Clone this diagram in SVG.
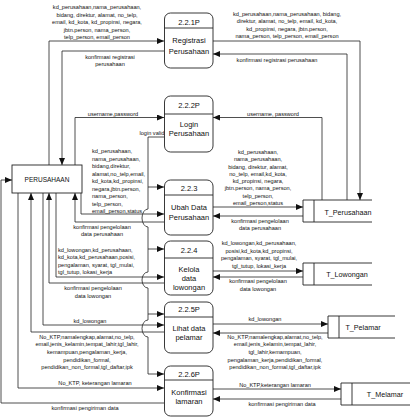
<svg xmlns="http://www.w3.org/2000/svg" width="420" height="418" viewBox="0 0 420 418">
<style>
.box{fill:#fff;stroke:#222;stroke-width:0.9}
.ln{fill:none;stroke:#222;stroke-width:0.9}
.c{fill:none;stroke:#222;stroke-width:0.8}
.a{marker-end:url(#ah)}
text{font-family:"Liberation Sans",Arial,sans-serif;fill:#111}
.lb{font-size:5.6px;text-anchor:middle}
.ll{font-size:5.6px;text-anchor:start}
.pt{font-size:7.5px;text-anchor:middle}
.et{font-size:6.5px;text-anchor:middle}
.st{font-size:7.2px;text-anchor:middle}
</style>
<defs>
<marker id="ah" markerUnits="userSpaceOnUse" markerWidth="7" markerHeight="6" refX="7" refY="3" orient="auto">
<path d="M0,0 L7,3 L0,6 Z" fill="#111"/>
</marker>
</defs>
<rect width="420" height="418" fill="#fff"/>

<g id="connectors">
<path class="c a" d="M49 165 V41 H164"/>
<path class="c a" d="M164 51 H62 V165"/>
<path class="c a" d="M213 41 H360 V200"/>
<path class="c a" d="M347 200 V54 H213"/>
<path class="c a" d="M75 165 V117.5 H164"/>
<path class="c a" d="M322 200 V117.5 H213"/>
<path class="c a" d="M164 137 H148 V209 A6 9 0 0 0 148 227 V272 A6 8 0 0 0 148 288 V320 A6 8.5 0 0 0 148 337 V374 H164"/>
<path class="c a" d="M148 187 H164"/>
<path class="c a" d="M148 249 H164"/>
<path class="c a" d="M148 314 H164"/>
<path class="c a" d="M81 193 V214 H164"/>
<path class="c a" d="M164 222 H75 V193"/>
<path class="c a" d="M56 193 V277 H164"/>
<path class="c a" d="M164 283 H49 V193"/>
<path class="c a" d="M43 193 V325 H164"/>
<path class="c a" d="M164 332 H31 V193"/>
<path class="c a" d="M18 193 V388 H164"/>
<path class="c a" d="M164 403 H1 V180 H12"/>
<path class="c a" d="M213 207 H303"/>
<path class="c a" d="M303 216 H213"/>
<path class="c a" d="M213 271 H303"/>
<path class="c a" d="M303 277 H213"/>
<path class="c a" d="M213 324 H328"/>
<path class="c a" d="M328 333 H213"/>
<path class="c a" d="M213 389 H341"/>
<path class="c a" d="M341 399 H213"/>
</g>

<g id="flow-labels">
<text class="lb" x="97"><tspan x="97" y="9">kd_perusahaan,nama_perusahaan,</tspan><tspan x="97" y="16.5">bidang, direktur, alamat, no_telp,</tspan><tspan x="97" y="24">email, kd_kota, kd_propinsi, negara,</tspan><tspan x="97" y="31.5">jbtn.person, nama_person,</tspan><tspan x="97" y="39">telp_person, email_person</tspan></text>
<text class="lb"><tspan x="110" y="59">konfirmasi registrasi</tspan><tspan x="110" y="65.5">perusahaan</tspan></text>
<text class="lb"><tspan x="287" y="16">kd_perusahaan,nama_perusahaan, bidang,</tspan><tspan x="287" y="23.3">direktur, alamat, no_telp, email, kd_kota,</tspan><tspan x="287" y="30.6">kd_propinsi, negara, jbtn.person,</tspan><tspan x="287" y="38">nama_person, telp_person, email_person</tspan></text>
<text class="lb" x="277" y="62">konfirmasi registrasi perusahaan</text>
<text class="lb" x="113" y="115.5">username,password</text>
<text class="lb" x="273" y="115.5">username, password</text>
<rect x="139" y="130" width="24" height="6" fill="#fff"/>
<text class="ll" x="139.5" y="135">login valid</text>
<text class="ll"><tspan x="92" y="153">kd_perusahaan,</tspan><tspan x="92" y="160.5">nama_perusahaan,</tspan><tspan x="92" y="168">bidang,direktur,</tspan><tspan x="92" y="175.5">alamat,no_telp,email,</tspan><tspan x="92" y="183">kd_kota,kd_propinsi,</tspan><tspan x="92" y="190.5">negara,jbtn.person,</tspan><tspan x="92" y="198">nama_person,</tspan><tspan x="92" y="205.5">telp_person,</tspan><tspan x="92" y="213">email_person,status</tspan></text>
<text class="lb"><tspan x="102" y="228.5">konfirmasi pengelolaan</tspan><tspan x="102" y="235.5">data perusahaan</tspan></text>
<text class="ll"><tspan x="58" y="252">kd_lowongan,kd_perusahaan,</tspan><tspan x="58" y="259.3">kd_kota,kd_perusahaan,posisi,</tspan><tspan x="58" y="266.6">pengalaman, syarat, tgl_mulai,</tspan><tspan x="58" y="274">tgl_tutup, lokasi_kerja</tspan></text>
<text class="lb"><tspan x="93" y="290">konfirmasi pengelolaan</tspan><tspan x="93" y="297.5">data lowongan</tspan></text>
<text class="lb" x="90" y="323">kd_lowongan</text>
<text class="lb"><tspan x="87" y="339">No_KTP,namalengkap,alamat,no_telp,</tspan><tspan x="87" y="346.3">email,jenis_kelamin,tempat_lahir,tgl_lahir,</tspan><tspan x="87" y="353.9">kemampuan,pengalaman_kerja,</tspan><tspan x="87" y="361.5">pendidikan_formal,</tspan><tspan x="87" y="369">pendidikan_non_formal,tgl_daftar,ipk</tspan></text>
<text class="lb" x="95" y="385">No_KTP, keterangan lamaran</text>
<text class="lb" x="85" y="409.5">konfirmasi pengiriman data</text>
<text class="lb"><tspan x="258" y="154">kd_perusahaan,</tspan><tspan x="258" y="161.2">nama_perusahaan,</tspan><tspan x="258" y="168.5">bidang, direktur, alamat,</tspan><tspan x="258" y="175.8">no_telp, email,kd_kota,</tspan><tspan x="258" y="183">kd_propinsi, negara,</tspan><tspan x="258" y="190.3">jbtn.person, nama_person,</tspan><tspan x="258" y="197.6">telp_person,</tspan><tspan x="258" y="205">email_person,status</tspan></text>
<text class="lb"><tspan x="260" y="223">konfirmasi pengelolaan</tspan><tspan x="260" y="230">data perusahaan</tspan></text>
<text class="lb"><tspan x="259" y="245">kd_lowongan,kd_perusahaan,</tspan><tspan x="259" y="252.5">posisi,kd_kota,kd_propinsi,</tspan><tspan x="259" y="260">pengalaman, syarat,  tgl_mulai,</tspan><tspan x="259" y="267.5">tgl_tutup, lokasi_kerja</tspan></text>
<text class="lb"><tspan x="258" y="283">konfirmasi pengelolaan</tspan><tspan x="258" y="290.5">data lowongan</tspan></text>
<text class="lb" x="265" y="321">kd_lowongan</text>
<text class="lb"><tspan x="275" y="339">No_KTP,namalengkap,alamat,no_telp,</tspan><tspan x="275" y="346.3">email,jenis_kelamin,tempat_lahir,</tspan><tspan x="275" y="353.9">tgl_lahir,kemampuan,</tspan><tspan x="275" y="361.5">pengalaman_kerja,pendidikan_formal,</tspan><tspan x="275" y="369">pendidikan_non_formal,tgl_daftar,ipk</tspan></text>
<text class="lb" x="275" y="387">No_KTP,keterangan lamaran</text>
<text class="lb" x="282" y="406">konfirmasi pengiriman data</text>
</g>

<g id="entity-perusahaan">
<rect class="box" x="12" y="165" width="70" height="28"/>
<text class="et" x="47" y="182.3">PERUSAHAAN</text>
</g>

<g id="p221">
<rect class="box" x="164.5" y="13" width="48.5" height="55" rx="6"/>
<line class="ln" x1="164.5" y1="28" x2="213" y2="28"/>
<text class="pt" x="189" y="24.5">2.2.1P</text>
<text class="pt" x="189" y="42.5">Registrasi</text>
<text class="pt" x="189" y="54">Perusahaan</text>
</g>
<g id="p222">
<rect class="box" x="164.5" y="96" width="48.5" height="56" rx="6"/>
<line class="ln" x1="164.5" y1="114" x2="213" y2="114"/>
<text class="pt" x="189" y="107.5">2.2.2P</text>
<text class="pt" x="189" y="126.5">Login</text>
<text class="pt" x="189" y="136">Perusahaan</text>
</g>
<g id="p223">
<rect class="box" x="164.5" y="180" width="48.5" height="55" rx="6"/>
<line class="ln" x1="164.5" y1="195" x2="213" y2="195"/>
<text class="pt" x="189" y="190.5">2.2.3</text>
<text class="pt" x="189" y="209.5">Ubah Data</text>
<text class="pt" x="189" y="219.5">Perusahaan</text>
</g>
<g id="p224">
<rect class="box" x="164.5" y="241" width="48.5" height="54" rx="6"/>
<line class="ln" x1="164.5" y1="258" x2="213" y2="258"/>
<text class="pt" x="189" y="252.5">2.2.4</text>
<text class="pt" x="189" y="271.5">Kelola</text>
<text class="pt" x="189" y="280.5">data</text>
<text class="pt" x="189" y="290">lowongan</text>
</g>
<g id="p225">
<rect class="box" x="164.5" y="302" width="48.5" height="51" rx="6"/>
<line class="ln" x1="164.5" y1="317" x2="213" y2="317"/>
<text class="pt" x="189" y="311.5">2.2.5P</text>
<text class="pt" x="189" y="330.5">Lihat data</text>
<text class="pt" x="189" y="339.5">pelamar</text>
</g>
<g id="p226">
<rect class="box" x="164.5" y="366" width="48.5" height="50" rx="6"/>
<line class="ln" x1="164.5" y1="380" x2="213" y2="380"/>
<text class="pt" x="189" y="376.5">2.2.6P</text>
<text class="pt" x="189" y="394.5">Konfirmasi</text>
<text class="pt" x="189" y="404">lamaran</text>
</g>

<g id="ds-perusahaan">
<path class="ln" d="M372 200 H303 V222 H372 M314 200 V222"/>
<text class="st" x="348" y="214.5">T_Perusahaan</text>
</g>
<g id="ds-lowongan">
<path class="ln" d="M372 263 H303 V285 H372 M314 263 V285"/>
<text class="st" x="347" y="276.5">T_Lowongan</text>
</g>
<g id="ds-pelamar">
<path class="ln" d="M395 316 H328 V338 H395 M339 316 V338"/>
<text class="st" x="363" y="330">T_Pelamar</text>
</g>
<g id="ds-melamar">
<path class="ln" d="M410 383 H341 V405 H410 M352 383 V405"/>
<text class="st" x="385" y="397">T_Melamar</text>
</g>
</svg>
